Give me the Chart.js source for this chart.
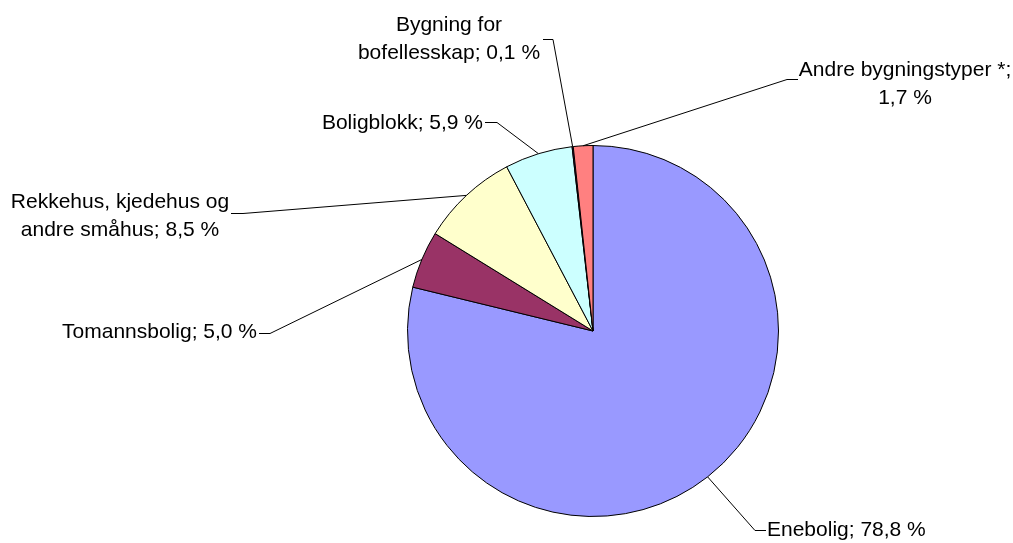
<!DOCTYPE html>
<html lang="no">
<head>
<meta charset="utf-8">
<title>Boliger etter bygningstype</title>
<script src="https://cdn.jsdelivr.net/npm/chart.js@4/dist/chart.umd.min.js"></script>
<style>
    html, body { margin: 0; padding: 0; background: #fff; }
    #wrap { width: 1013px; height: 543px; }
</style>
</head>
<body>
<div id="wrap"><canvas id="pie" width="1013" height="543"></canvas></div>
<script>
// Boliger fordelt på bygningstype, prosent
const categories = [
    'Enebolig',
    'Tomannsbolig',
    'Rekkehus, kjedehus og andre småhus',
    'Boligblokk',
    'Bygning for bofellesskap',
    'Andre bygningstyper *'
];
const shares = [78.8, 5.0, 8.5, 5.9, 0.1, 1.7];
const sliceColors = ['#9999FF', '#993366', '#FFFFCC', '#CCFFFF', '#660066', '#FF8080'];

// Where each label sits and the short horizontal stub of its leader line
const callouts = [
    { x: 767, y: 530, align: 'left',   maxWidth: 300, stub: [[766, 530], [755, 530]] },
    { x: 257, y: 332, align: 'right',  maxWidth: 300, stub: [[259, 333], [270, 333]] },
    { x: 120, y: 202, align: 'center', maxWidth: 235, stub: [[231, 213], [243, 213]] },
    { x: 483, y: 123, align: 'right',  maxWidth: 300, stub: [[485, 122], [497, 122]] },
    { x: 449, y: 25,  align: 'center', maxWidth: 195, stub: [[543, 39], [553, 39]] },
    { x: 905, y: 70,  align: 'center', maxWidth: 220, stub: [[798, 79], [787, 79]] }
];

const LABEL_FONT = '21px "Liberation Sans", Arial, sans-serif';
const LINE_HEIGHT = 28;

function formatShare(v) {
    return v.toFixed(1).replace('.', ',') + ' %';
}

function wrapText(ctx, text, maxWidth) {
    const words = text.split(' ');
    const lines = [];
    let line = '';
    words.forEach(word => {
        const test = line ? line + ' ' + word : word;
        if (line && ctx.measureText(test).width > maxWidth) {
            lines.push(line);
            line = word;
        } else {
            line = test;
        }
    });
    if (line) lines.push(line);
    return lines;
}

// Draws the outside labels with their leader lines
const calloutPlugin = {
    id: 'callouts',
    afterDraw(chart) {
        const ctx = chart.ctx;
        const arcs = chart.getDatasetMeta(0).data;
        ctx.save();
        ctx.font = LABEL_FONT;
        ctx.fillStyle = '#000';
        ctx.strokeStyle = '#000';
        ctx.lineWidth = 1;
        ctx.textBaseline = 'middle';

        arcs.forEach((arc, i) => {
            const c = callouts[i];
            const mid = (arc.startAngle + arc.endAngle) / 2;
            const ax = arc.x + Math.cos(mid) * arc.outerRadius;
            const ay = arc.y + Math.sin(mid) * arc.outerRadius;

            ctx.beginPath();
            ctx.moveTo(c.stub[0][0], c.stub[0][1] + 0.5);
            ctx.lineTo(c.stub[1][0], c.stub[1][1] + 0.5);
            ctx.lineTo(ax, ay);
            ctx.stroke();

            const text = categories[i] + '; ' + formatShare(shares[i]);
            const lines = wrapText(ctx, text, c.maxWidth);
            ctx.textAlign = c.align;
            lines.forEach((ln, k) => {
                ctx.fillText(ln, c.x, c.y + k * LINE_HEIGHT);
            });
        });
        ctx.restore();
    }
};

new Chart(document.getElementById('pie'), {
    type: 'pie',
    data: {
        labels: categories,
        datasets: [{
            data: shares,
            backgroundColor: sliceColors,
            borderColor: '#000',
            borderWidth: 1
        }]
    },
    options: {
        responsive: false,
        animation: false,
        layout: {
            padding: { left: 407, right: 234, top: 145, bottom: 26 }
        },
        plugins: {
            legend: { display: false },
            tooltip: { enabled: false }
        }
    },
    plugins: [calloutPlugin]
});
</script>
</body>
</html>
